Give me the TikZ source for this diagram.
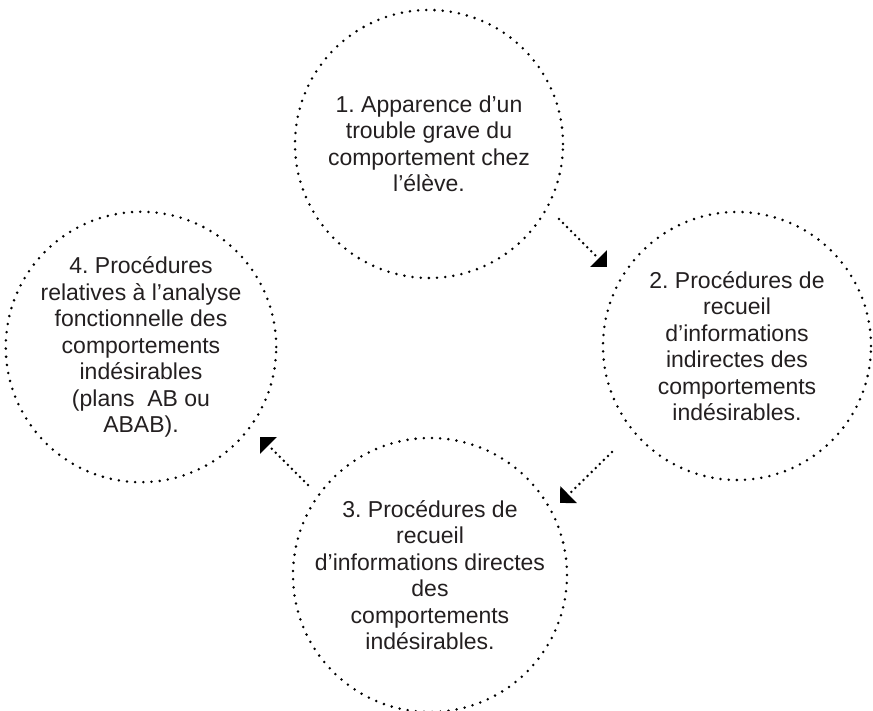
\documentclass[tikz,border=0pt]{standalone}
\usepackage{fontspec}
\setmainfont{Liberation Sans}
\usetikzlibrary{arrows.meta}
\definecolor{txt}{HTML}{231F20}
\frenchspacing

\begin{document}
\begin{tikzpicture}[x=1pt, y=1pt,
    phase/.style={circle, draw=black, line width=2.8pt, line cap=round,
        dash pattern=on 0pt off 8.2pt, minimum size=268pt, inner sep=0pt,
        align=center, text=txt, font=\fontsize{23}{26.5}\selectfont},
    link/.style={draw=black, line width=2.8pt, line cap=round,
        dash pattern=on 0pt off 5.7pt, -{Triangle[length=12pt,width=23pt]}}]
    \useasboundingbox (0,0) rectangle (873,710);

    % Nodes {p1, p2, p3, p4}
    \node [phase]   (p1) at (429,566) {1. Apparence d’un\\trouble grave du\\comportement chez\\l’élève.};
    \node [phase]   (p2) at (737,364) {2. Procédures de\\recueil\\d’informations\\indirectes des\\comportements\\indésirables.};
    \node [phase]   (p3) at (430,135) {3. Procédures de\\recueil\\d’informations directes\\des\\comportements\\indésirables.};
    \node [phase]   (p4) at (141,363) {4. Procédures\\relatives à l’analyse\\fonctionnelle des\\comportements\\indésirables\\(plans\ \ AB ou\\ABAB).};

    % Arrow ends
    \coordinate (p1out) at ([shift={(130,-75)}]p1.center);
    \coordinate (p2in)  at ([shift={(-130,79)}]p2.center);
    \coordinate (p2out) at ([shift={(-125,-106)}]p2.center);
    \coordinate (p3in)  at ([shift={(130,72)}]p3.center);
    \coordinate (p3out) at ([shift={(-122,90)}]p3.center);
    \coordinate (p4in)  at ([shift={(119,-90)}]p4.center);

    % Paths
    \path [link] (p1out) -- (p2in);
    \path [link] (p2out) -- (p3in);
    \path [link] (p3out) -- (p4in);
\end{tikzpicture}
\end{document}
